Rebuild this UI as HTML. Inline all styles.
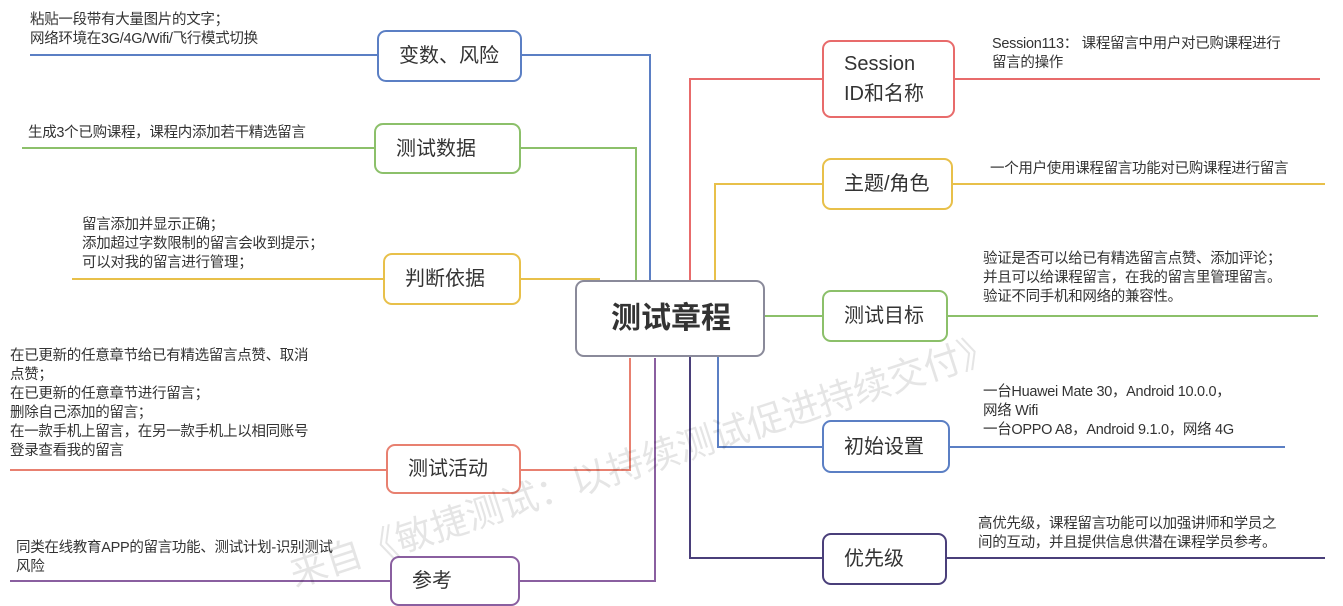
<!DOCTYPE html>
<html><head><meta charset="utf-8"><style>
body{margin:0;width:1343px;height:603px;background:#fff;overflow:hidden;position:relative;font-family:"Liberation Sans","Noto Sans CJK SC",sans-serif;}
.b{position:absolute;box-sizing:border-box;border:2px solid;border-radius:9px;background:#fff;display:flex;align-items:center;padding-left:20px;font-size:20px;color:#333;line-height:30px}
.t{position:absolute;font-size:14.5px;color:#333;line-height:19px;white-space:nowrap;letter-spacing:-0.3px}
svg{position:absolute;left:0;top:0}
</style></head><body>
<svg width="1343" height="603" fill="none" stroke-width="2">
<path d="M30 55H650V280" stroke="#5b7fc4"/>
<path d="M22 148H636V280" stroke="#8cc06a"/>
<path d="M72 279H600" stroke="#e8c04a"/>
<path d="M10 470H630V358" stroke="#e88070"/>
<path d="M10 581H655V358" stroke="#8a5fa0"/>
<path d="M690 280V79H1320" stroke="#e86b6b"/>
<path d="M715 280V184H1325" stroke="#e8c04a"/>
<path d="M765 316H1318" stroke="#8cc06a"/>
<path d="M718 357V447H1285" stroke="#5b7fc4"/>
<path d="M690 357V558H1325" stroke="#4a3f7a"/>
</svg>
<div class="b" style="left:377px;top:30px;width:145px;height:52px;border-color:#5b7fc4">变数、风险</div>
<div class="b" style="left:374px;top:123px;width:147px;height:51px;border-color:#8cc06a">测试数据</div>
<div class="b" style="left:383px;top:253px;width:138px;height:52px;border-color:#e8c04a">判断依据</div>
<div class="b" style="left:386px;top:444px;width:135px;height:50px;border-color:#e88070">测试活动</div>
<div class="b" style="left:390px;top:556px;width:130px;height:50px;border-color:#8a5fa0">参考</div>
<div class="b" style="left:575px;top:280px;width:190px;height:77px;border-color:#8a8a9a;font-size:30px;font-weight:bold;padding-left:34px">测试章程</div>
<div class="b" style="left:822px;top:40px;width:133px;height:78px;border-color:#e86b6b">Session<br>ID和名称</div>
<div class="b" style="left:822px;top:158px;width:131px;height:52px;border-color:#e8c04a">主题/角色</div>
<div class="b" style="left:822px;top:290px;width:126px;height:52px;border-color:#8cc06a">测试目标</div>
<div class="b" style="left:822px;top:420px;width:128px;height:53px;border-color:#5b7fc4">初始设置</div>
<div class="b" style="left:822px;top:533px;width:125px;height:52px;border-color:#4a3f7a">优先级</div>
<div class="t" style="left:30px;top:11px">粘贴一段带有大量图片的文字；<br>网络环境在3G/4G/Wifi/飞行模式切换</div>
<div class="t" style="left:28px;top:124px">生成3个已购课程，课程内添加若干精选留言</div>
<div class="t" style="left:82px;top:216px">留言添加并显示正确；<br>添加超过字数限制的留言会收到提示；<br>可以对我的留言进行管理；</div>
<div class="t" style="left:10px;top:347px">在已更新的任意章节给已有精选留言点赞、取消<br>点赞；<br>在已更新的任意章节进行留言；<br>删除自己添加的留言；<br>在一款手机上留言，在另一款手机上以相同账号<br>登录查看我的留言</div>
<div class="t" style="left:16px;top:539px">同类在线教育APP的留言功能、测试计划-识别测试<br>风险</div>
<div class="t" style="left:992px;top:35px">Session113： 课程留言中用户对已购课程进行<br>留言的操作</div>
<div class="t" style="left:990px;top:160px">一个用户使用课程留言功能对已购课程进行留言</div>
<div class="t" style="left:983px;top:250px">验证是否可以给已有精选留言点赞、添加评论；<br>并且可以给课程留言，在我的留言里管理留言。<br>验证不同手机和网络的兼容性。</div>
<div class="t" style="left:983px;top:383px">一台Huawei Mate 30，Android 10.0.0，<br>网络 Wifi<br>一台OPPO A8，Android 9.1.0，网络 4G</div>
<div class="t" style="left:978px;top:515px">高优先级，课程留言功能可以加强讲师和学员之<br>间的互动，并且提供信息供潜在课程学员参考。</div>
<div style="position:absolute;left:290px;top:545px;font-size:37px;color:rgba(0,0,0,0.1);white-space:nowrap;transform:rotate(-18deg);transform-origin:left center">来自《敏捷测试：以持续测试促进持续交付》</div>
</body></html>
